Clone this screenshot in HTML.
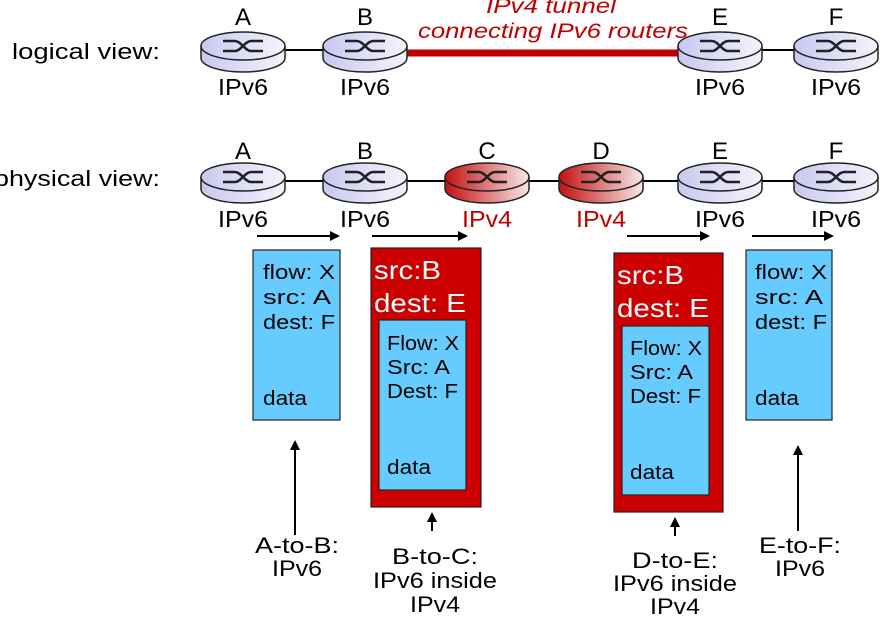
<!DOCTYPE html>
<html><head><meta charset="utf-8"><style>
body{margin:0;background:#fff;}
svg text{font-family:"Comic Sans MS","Liberation Sans",sans-serif;}
</style></head><body>
<svg width="892" height="628" viewBox="0 0 892 628" xmlns="http://www.w3.org/2000/svg">
<defs>
<linearGradient id="bl" x1="0" x2="1"><stop offset="0" stop-color="#c8c8f0"/><stop offset="1" stop-color="#f4f4fc"/></linearGradient>
<linearGradient id="rd" x1="0" x2="1"><stop offset="0" stop-color="#c41010"/><stop offset="1" stop-color="#f8e8e8"/></linearGradient>
</defs>
<line x1="285" y1="50" x2="323" y2="50" stroke="#000" stroke-width="2"/>
<line x1="407" y1="53" x2="680" y2="53" stroke="#c00000" stroke-width="7"/>
<line x1="762" y1="50" x2="795" y2="50" stroke="#000" stroke-width="2"/>
<line x1="285" y1="181" x2="795" y2="181" stroke="#000" stroke-width="2"/>

<g stroke="#222" stroke-width="1.5">
<g id="r" transform="translate(243,46)">
<path d="M-42,0 V12 A42,14 0 0 0 42,12 V0" fill="url(#bl)"/><ellipse cx="0" cy="0" rx="42" ry="14" fill="url(#bl)"/>
<path d="M-20,-5 H-8 C-2,-5 2,5 8,5 H20 M-20,5 H-8 C-2,5 2,-5 8,-5 H20" fill="none" stroke-width="2.5"/>
</g>
<use href="#r" x="122" y="0"/>
<use href="#r" x="477" y="0"/>
<use href="#r" x="593" y="0"/>
<use href="#r" x="0" y="131"/>
<use href="#r" x="122" y="131"/>
<use href="#r" x="477" y="131"/>
<use href="#r" x="593" y="131"/>
<g transform="translate(487,177)">
<path d="M-42,0 V12 A42,14 0 0 0 42,12 V0" fill="url(#rd)"/><ellipse cx="0" cy="0" rx="42" ry="14" fill="url(#rd)"/>
<path d="M-20,-5 H-8 C-2,-5 2,5 8,5 H20 M-20,5 H-8 C-2,5 2,-5 8,-5 H20" fill="none" stroke-width="2.5"/>
</g>
<g transform="translate(601,177)">
<path d="M-42,0 V12 A42,14 0 0 0 42,12 V0" fill="url(#rd)"/><ellipse cx="0" cy="0" rx="42" ry="14" fill="url(#rd)"/>
<path d="M-20,-5 H-8 C-2,-5 2,5 8,5 H20 M-20,5 H-8 C-2,5 2,-5 8,-5 H20" fill="none" stroke-width="2.5"/>
</g>
</g>

<g font-size="24" text-anchor="middle" fill="#000">
<text x="243" y="25">A</text><text x="365" y="25">B</text><text x="720" y="25">E</text><text x="836" y="25">F</text>
<text x="243" y="159">A</text><text x="365" y="159">B</text><text x="487" y="159">C</text><text x="601" y="159">D</text><text x="720" y="159">E</text><text x="836" y="159">F</text>
</g>
<g font-size="23" fill="#000">
<text x="218" y="95" textLength="50" lengthAdjust="spacingAndGlyphs">IPv6</text><text x="340" y="95" textLength="50" lengthAdjust="spacingAndGlyphs">IPv6</text><text x="695" y="95" textLength="50" lengthAdjust="spacingAndGlyphs">IPv6</text><text x="811" y="95" textLength="50" lengthAdjust="spacingAndGlyphs">IPv6</text>
<text x="218" y="227" textLength="50" lengthAdjust="spacingAndGlyphs">IPv6</text><text x="340" y="227" textLength="50" lengthAdjust="spacingAndGlyphs">IPv6</text><text x="462" y="227" fill="#c00000" textLength="50" lengthAdjust="spacingAndGlyphs">IPv4</text><text x="576" y="227" fill="#c00000" textLength="50" lengthAdjust="spacingAndGlyphs">IPv4</text><text x="695" y="227" textLength="50" lengthAdjust="spacingAndGlyphs">IPv6</text><text x="811" y="227" textLength="50" lengthAdjust="spacingAndGlyphs">IPv6</text>
</g>
<g font-size="21" font-style="italic" fill="#c00000">
<text x="486" y="13" textLength="130" lengthAdjust="spacingAndGlyphs">IPv4 tunnel</text><text x="418" y="38" textLength="270" lengthAdjust="spacingAndGlyphs">connecting IPv6 routers</text>
</g>
<g font-size="22" fill="#000">
<text x="12" y="59" textLength="148" lengthAdjust="spacingAndGlyphs">logical view:</text><text x="-6" y="186" textLength="166" lengthAdjust="spacingAndGlyphs">physical view:</text>
</g>

<g stroke="#000" stroke-width="2">
<line x1="257" y1="236" x2="332" y2="236"/><line x1="372" y1="236" x2="460" y2="236"/>
<line x1="627" y1="236" x2="702" y2="236"/><line x1="752" y1="236" x2="826" y2="236"/>
<line x1="295" y1="535" x2="295" y2="448"/><line x1="432" y1="531" x2="432" y2="520"/>
<line x1="675" y1="536" x2="675" y2="525"/><line x1="798" y1="531" x2="798" y2="453"/>
</g>
<g fill="#000">
<path d="M340,236 l-10,-5 v10z"/><path d="M468,236 l-10,-5 v10z"/><path d="M710,236 l-10,-5 v10z"/><path d="M834,236 l-10,-5 v10z"/>
<path d="M295,440 l-5,10 h10z"/><path d="M432,512 l-5,10 h10z"/><path d="M675,517 l-5,10 h10z"/><path d="M798,445 l-5,10 h10z"/>
</g>

<g stroke="#222" stroke-width="1.2">
<rect x="253" y="250" width="87" height="170" fill="#66ccff"/>
<rect x="746" y="250" width="86" height="170" fill="#66ccff"/>
<rect x="371" y="248" width="110" height="259" fill="#cc0000"/>
<rect x="379" y="320" width="87" height="170" fill="#66ccff"/>
<rect x="614" y="253" width="109" height="259" fill="#cc0000"/>
<rect x="622" y="326" width="87" height="169" fill="#66ccff"/>
</g>
<g font-size="20" fill="#000">
<text x="263" y="279" textLength="72" lengthAdjust="spacingAndGlyphs">flow: X</text><text x="263" y="304" textLength="68" lengthAdjust="spacingAndGlyphs">src: A</text><text x="263" y="329" textLength="72" lengthAdjust="spacingAndGlyphs">dest: F</text><text x="263" y="405" textLength="44" lengthAdjust="spacingAndGlyphs">data</text>
<text x="755" y="279" textLength="72" lengthAdjust="spacingAndGlyphs">flow: X</text><text x="755" y="304" textLength="68" lengthAdjust="spacingAndGlyphs">src: A</text><text x="755" y="329" textLength="72" lengthAdjust="spacingAndGlyphs">dest: F</text><text x="755" y="405" textLength="44" lengthAdjust="spacingAndGlyphs">data</text>
<text x="387" y="350" textLength="72" lengthAdjust="spacingAndGlyphs">Flow: X</text><text x="387" y="374" textLength="63" lengthAdjust="spacingAndGlyphs">Src: A</text><text x="387" y="398" textLength="71" lengthAdjust="spacingAndGlyphs">Dest: F</text><text x="387" y="474" textLength="44" lengthAdjust="spacingAndGlyphs">data</text>
<text x="630" y="355" textLength="72" lengthAdjust="spacingAndGlyphs">Flow: X</text><text x="630" y="379" textLength="63" lengthAdjust="spacingAndGlyphs">Src: A</text><text x="630" y="403" textLength="71" lengthAdjust="spacingAndGlyphs">Dest: F</text><text x="630" y="479" textLength="44" lengthAdjust="spacingAndGlyphs">data</text>
</g>
<g font-size="26" fill="#fff">
<text x="374" y="279" textLength="67" lengthAdjust="spacingAndGlyphs">src:B</text><text x="374" y="312" textLength="92" lengthAdjust="spacingAndGlyphs">dest: E</text>
<text x="617" y="284" textLength="67" lengthAdjust="spacingAndGlyphs">src:B</text><text x="617" y="317" textLength="92" lengthAdjust="spacingAndGlyphs">dest: E</text>
</g>
<g font-size="22" fill="#000">
<text x="255" y="553" textLength="84" lengthAdjust="spacingAndGlyphs">A-to-B:</text><text x="272" y="576" textLength="50" lengthAdjust="spacingAndGlyphs">IPv6</text>
<text x="392" y="564" textLength="86" lengthAdjust="spacingAndGlyphs">B-to-C:</text><text x="373" y="588" textLength="124" lengthAdjust="spacingAndGlyphs">IPv6 inside</text><text x="410" y="612" textLength="50" lengthAdjust="spacingAndGlyphs">IPv4</text>
<text x="632" y="568" textLength="86" lengthAdjust="spacingAndGlyphs">D-to-E:</text><text x="613" y="591" textLength="124" lengthAdjust="spacingAndGlyphs">IPv6 inside</text><text x="650" y="614" textLength="50" lengthAdjust="spacingAndGlyphs">IPv4</text>
<text x="759" y="553" textLength="82" lengthAdjust="spacingAndGlyphs">E-to-F:</text><text x="775" y="576" textLength="50" lengthAdjust="spacingAndGlyphs">IPv6</text>
</g>
</svg>
</body></html>
